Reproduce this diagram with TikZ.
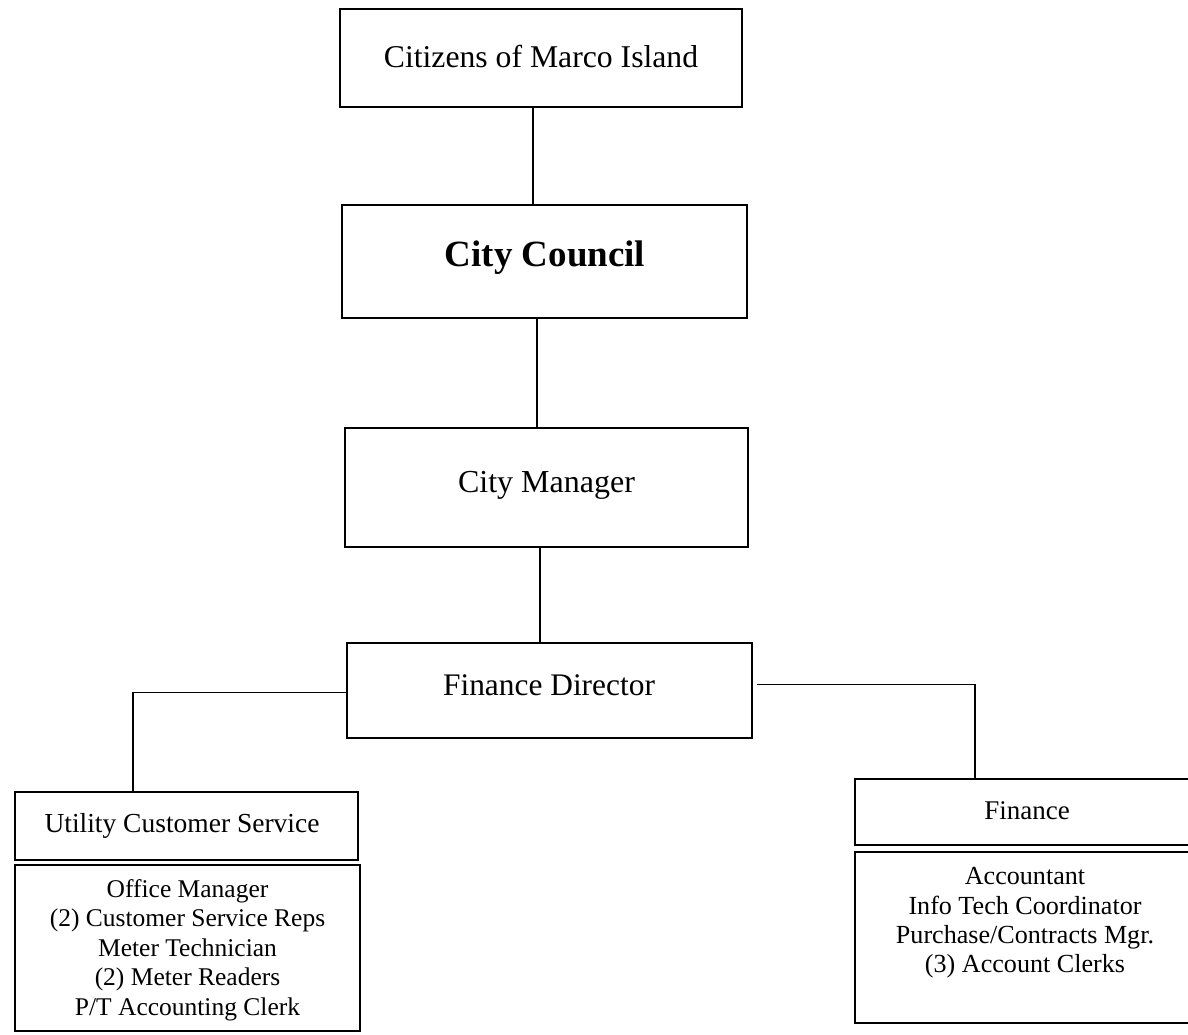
\documentclass[tikz,border=0pt]{standalone}
\usepackage{fontspec}
\setmainfont{Liberation Serif}
\begin{document}
\begin{tikzpicture}[x=1pt,y=-1pt,
  box/.style={draw=black, line width=1.6pt, inner sep=0pt, outer sep=0pt, rectangle},
  wire/.style={draw=black, line width=1.6pt},
  lbl/.style={inner sep=0pt, outer sep=0pt, anchor=base, text=black},
  list/.style={inner sep=0pt, outer sep=0pt, align=center, anchor=center, text=black}]
\useasboundingbox (0,0) rectangle (1188,1034);
\clip (0,0) rectangle (1188,1034);

% boxes of the chain of command
\node[box, minimum width=402pt, minimum height=98pt]  (cit) at (541,58) {};
\node[box, minimum width=405pt, minimum height=113pt] (cc)  at (544.5,261.5) {};
\node[box, minimum width=403pt, minimum height=119pt] (cm)  at (546.5,487.5) {};
\node[box, minimum width=405pt, minimum height=95pt]  (fd)  at (549.5,690.5) {};

% divisions
\node[box, minimum width=343pt, minimum height=68pt]  (ucs)  at (186.5,826) {};
\node[box, minimum width=345pt, minimum height=166pt] (ucsl) at (187.5,948) {};
\node[box, minimum width=344pt, minimum height=66pt]  (fin)  at (1027,812) {};
\node[box, minimum width=344pt, minimum height=171pt] (finl) at (1027,937.5) {};

% titles
\node[lbl, font=\fontsize{31.7}{36}\selectfont] (citT) at (541,67) {Citizens of Marco Island};
\node[lbl, font=\fontsize{37}{42}\selectfont\bfseries] (ccT) at (545,266) {City Council};
\node[lbl, font=\fontsize{32}{36}\selectfont] (cmT) at (546.5,492) {City Manager};
\node[lbl, font=\fontsize{31.4}{36}\selectfont] (fdT) at (549,695) {Finance Director};
\node[lbl, font=\fontsize{27.5}{31}\selectfont] (ucsT) at (182,832) {Utility Customer Service};
\node[lbl, font=\fontsize{27}{31}\selectfont] (finT) at (1027,819) {Finance};

% staff lists
\node[list, font=\fontsize{25.5}{29.5}\selectfont] (ucsL) at (187.5,950)
  {Office Manager\\(2) Customer Service Reps\\Meter Technician\\(2) Meter Readers\\P/T Accounting Clerk};
\node[list, font=\fontsize{26.1}{29.3}\selectfont] (finL) at (1025,923)
  {Accountant\\Info Tech Coordinator\\Purchase/Contracts Mgr.\\(3) Account Clerks};

% connectors
\draw[wire] ([xshift=-8pt]cit.south) -- ([xshift=-8pt]cit.south |- cc.north);
\draw[wire] ([xshift=-7.5pt]cc.south) -- ([xshift=-7.5pt]cc.south |- cm.north);
\draw[wire] ([xshift=-6.5pt]cm.south) -- ([xshift=-6.5pt]cm.south |- fd.north);
\draw[wire] ([yshift=-2pt]fd.west) -| ([xshift=-53.5pt]ucs.north);
\draw[wire] ([xshift=5pt,yshift=6pt]fd.east) -| ([xshift=-52pt]fin.north);
\end{tikzpicture}
\end{document}
